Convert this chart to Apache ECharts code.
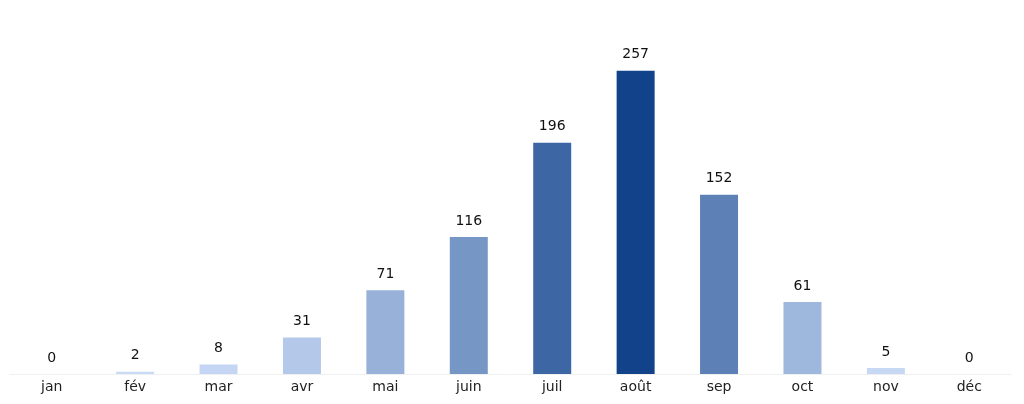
<!DOCTYPE html>
<html>
<head>
<meta charset="utf-8">
<script src="https://cdn.jsdelivr.net/npm/echarts@6/dist/echarts.min.js"></script>
<style>html,body{margin:0;padding:0;background:#fff}#chart{width:1024px;height:404px}</style>
</head>
<body>
<div id="chart"></div>
<script>
// mois et valeurs
var months = ['jan','fév','mar','avr','mai','juin','juil','août','sep','oct','nov','déc'];
var counts = [0, 2, 8, 31, 71, 116, 196, 257, 152, 61, 5, 0];

var myChart = echarts.init(document.getElementById('chart'));
var option = {
    animation: false,
    grid: { left: 10, right: 13, top: 20, bottom: 30 },
    visualMap: {
        show: false,
        min: 0,
        max: 257,
        dimension: 1,
        inRange: { color: ['#cadbf6', '#11428a'] }
    },
    xAxis: {
        type: 'category',
        data: months,
        axisLine: { show: true, lineStyle: { color: '#f0f0f0' } },
        axisTick: { show: false },
        axisLabel: { color: '#222', fontSize: 14, fontFamily: 'DejaVu Sans', margin: 6 }
    },
    yAxis: {
        type: 'value',
        min: 0,
        max: 300,
        show: false
    },
    series: [{
        type: 'bar',
        data: counts,
        barWidth: 38,
        label: {
            show: true,
            position: 'top',
            distance: 9,
            color: '#111',
            fontSize: 14,
            fontFamily: 'DejaVu Sans'
        }
    }]
};
myChart.setOption(option);
</script>
</body>
</html>
